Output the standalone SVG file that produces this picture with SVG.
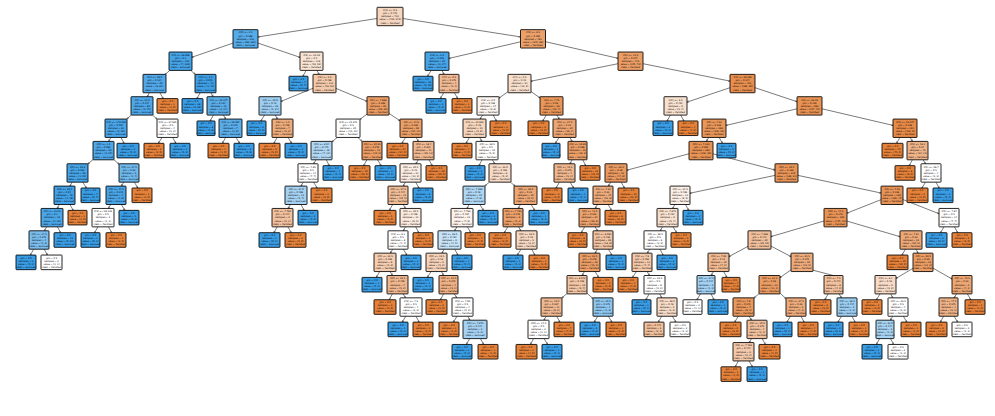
<svg xmlns="http://www.w3.org/2000/svg" width="995" height="416" viewBox="0 0 995 416">
<style>
text{font-family:"DejaVu Sans",sans-serif;font-size:2.3px;text-anchor:middle;fill:#000}
rect{stroke:#000;stroke-width:.85;rx:.5px}
.o{fill:#e58139}.b{fill:#399de5}.w{fill:#fff}
#edges path{fill:none;stroke:#222;stroke-width:.6;marker-end:url(#ah)}
</style>
<defs><marker id="ah" viewBox="0 0 4 4" refX="3.6" refY="2" markerWidth="2.2" markerHeight="2.2" orient="auto" markerUnits="userSpaceOnUse"><path d="M0 .3L3.6 2L0 3.7" fill="none" stroke="#222" stroke-width=".7"/></marker></defs>
<rect x="0" y="0" width="995" height="416" fill="#fff" style="stroke:none"/>
<g id="edges">
<path d="M377 18.5L258 36.9"/><path d="M403 18.5L520.5 36.9"/><path d="M233 43.1L192 57.2"/><path d="M258 43.1L300 57.3"/><path d="M520.5 41.8L449 58.4"/><path d="M545.5 41.7L618 58.3"/>
<path d="M169.8 70.4L165.2 74.4"/><path d="M190.8 70.4L195.2 74.4"/><path d="M306.2 70.4L302.8 76.3"/><path d="M316.9 70.4L319.2 74.4"/><path d="M431.2 70.4L427.6 76.3"/><path d="M441.9 70.4L444.1 74.4"/><path d="M618 63.7L531 81.2"/><path d="M643 63.7L730 81.1"/>
<path d="M149.4 92.8L147.2 96.7"/><path d="M159.9 92.8L163.3 98.6"/><path d="M200.2 92.8L196.8 98.6"/><path d="M210.9 92.8L213.2 96.7"/><path d="M313 88.3L281 101.4"/><path d="M336 88.4L367 101.3"/><path d="M443.7 92.8L440.3 98.6"/><path d="M454.4 92.8L457.8 98.6"/><path d="M508 91.7L499 98.1"/><path d="M531 91.6L540 97.9"/><path d="M730 87.7L687 102.1"/><path d="M755 87.7L797 101.7"/>
<path d="M131.3 115.1L126.7 119.1"/><path d="M152.5 115.1L157 119.1"/><path d="M213.4 115.1L210.1 121"/><path d="M223.5 115.1L225.6 119.1"/><path d="M264.5 115.1L260.9 121"/><path d="M275.2 115.1L277.4 119.1"/><path d="M367 114.1L360 119.3"/><path d="M389 113.4L400 120.8"/><path d="M482.5 115.1L480.1 119.1"/><path d="M493.2 115.1L496.4 121"/><path d="M546.2 115.1L542.8 121"/><path d="M556.9 115.1L559.2 119.1"/><path d="M670.4 115.1L667.1 121"/><path d="M680.7 115.1L683.9 121"/><path d="M797 108.8L726 125.4"/><path d="M822 108.8L893 125.4"/>
<path d="M110.9 137.5L108.7 141.4"/><path d="M121 137.5L124.1 143.3"/><path d="M162 137.5L158.4 143.3"/><path d="M172.7 137.5L175.9 143.3"/><path d="M225.6 137.5L222.4 143.3"/><path d="M236.1 137.5L239.6 143.3"/><path d="M277.2 137.5L273.8 143.3"/><path d="M288.1 137.5L291.6 143.3"/><path d="M337.1 137.5L332 141.8"/><path d="M357.9 137.5L362.1 141.4"/><path d="M405.5 137.5L401.9 143.3"/><path d="M416.2 137.5L418.4 141.4"/><path d="M469.4 137.5L466.1 143.3"/><path d="M479.7 137.5L481.9 141.4"/><path d="M559 137.5L555.4 143.3"/><path d="M569.9 137.5L572.2 141.4"/><path d="M708.7 137.5L706.4 141.4"/><path d="M719.2 137.5L722.4 143.3"/><path d="M899.9 137.5L896.6 143.3"/><path d="M910.2 137.5L912.4 141.4"/>
<path d="M93 159.6L88 163.9"/><path d="M114 159.8L119 164.2"/><path d="M316 159.8L313.6 163.8"/><path d="M326.3 159.8L329.3 165.7"/><path d="M366.9 159.8L363.6 165.7"/><path d="M377.6 159.8L381.1 165.7"/><path d="M418.2 159.8L415.9 163.8"/><path d="M428.9 159.8L432.3 165.7"/><path d="M482.1 159.8L478.9 165.7"/><path d="M492.4 159.8L494.7 163.8"/><path d="M572.2 159.8L569.9 163.8"/><path d="M582.7 159.8L585.9 165.7"/><path d="M689 153.8L627 170.1"/><path d="M713 153.8L775 170"/><path d="M912.4 159.8L909.1 165.7"/><path d="M923.1 159.8L925.5 163.8"/>
<path d="M72.2 182.2L69.9 186.1"/><path d="M82.9 182.2L86.3 188"/><path d="M123.7 182.2L121.4 186.1"/><path d="M134.4 182.2L137.8 188"/><path d="M303.1 182.2L301 186.1"/><path d="M313.6 182.2L317.1 188"/><path d="M405.4 182.2L403.2 186.1"/><path d="M415.7 182.2L418.9 188"/><path d="M489.3 182.2L484.7 186.1"/><path d="M510.5 182.2L515 186.1"/><path d="M559.4 182.2L556.1 188"/><path d="M570.1 182.2L573.6 188"/><path d="M610.7 182.2L608.4 186.1"/><path d="M621.2 182.2L624.4 188"/><path d="M775 175.4L690 193.2"/><path d="M798 175.4L881 193"/><path d="M925.5 182.2L921.9 188"/><path d="M936 182.2L939.1 188"/>
<path d="M59.4 204.5L57.2 208.5"/><path d="M69.9 204.5L73.3 210.4"/><path d="M110.7 204.5L108.4 208.5"/><path d="M121.4 204.5L124.8 210.4"/><path d="M290.5 204.5L288.1 208.5"/><path d="M301 204.5L304.1 210.4"/><path d="M392.7 204.5L389.3 210.4"/><path d="M403.2 204.5L405.4 208.5"/><path d="M469.1 204.5L467 208.5"/><path d="M479.8 204.5L483.5 210.4"/><path d="M520.4 204.5L518.2 208.5"/><path d="M531.1 204.5L534.6 210.4"/><path d="M597.5 204.5L595.1 208.5"/><path d="M608.2 204.5L611.4 210.4"/><path d="M674.9 204.5L672.7 208.5"/><path d="M685.4 204.5L688.8 210.4"/><path d="M881 199.7L847 213.1"/><path d="M903 199.6L939 213.7"/>
<path d="M46.7 226.9L44.4 230.8"/><path d="M57.4 226.9L60.8 232.7"/><path d="M97.9 226.9L94.6 232.7"/><path d="M108.4 226.9L111.8 232.7"/><path d="M277.2 226.9L273.8 232.7"/><path d="M287.9 226.9L291.3 232.7"/><path d="M405.4 226.9L403.2 230.8"/><path d="M415.7 226.9L418.9 232.7"/><path d="M456.9 226.9L454.7 230.8"/><path d="M467.4 226.9L470.8 232.7"/><path d="M507.7 226.9L504.3 232.7"/><path d="M518.6 226.9L521 230.8"/><path d="M584.6 226.9L581.4 232.7"/><path d="M595.1 226.9L597.5 230.8"/><path d="M662.4 226.9L660.2 230.8"/><path d="M673.1 226.9L676.6 232.7"/><path d="M824 221L771 236.6"/><path d="M847 221.1L900 236.7"/><path d="M943.9 226.9L940.6 232.7"/><path d="M954.4 226.9L957.8 232.7"/>
<path d="M33.7 249.2L30.3 255.1"/><path d="M44.2 249.2L47.4 255.1"/><path d="M392.7 249.2L390.4 253.2"/><path d="M403.4 249.2L406.8 255.1"/><path d="M444.2 249.2L441.9 253.2"/><path d="M454.7 249.2L457.9 255.1"/><path d="M521 249.2L517.4 255.1"/><path d="M531.7 249.2L534.9 255.1"/><path d="M597.5 249.2L595.1 253.2"/><path d="M608.4 249.2L611.8 255.1"/><path d="M649.7 249.2L647.4 253.2"/><path d="M660 249.2L663.1 255.1"/><path d="M748 246.3L729 256.6"/><path d="M771 246.1L791 256.6"/><path d="M905.5 249.2L901.9 255.1"/><path d="M916 249.2L918.1 253.2"/>
<path d="M379.7 271.6L376.3 277.4"/><path d="M390.2 271.6L392.4 275.5"/><path d="M431 271.6L427.4 277.4"/><path d="M441.5 271.6L443.6 275.5"/><path d="M584.4 271.6L582.2 275.5"/><path d="M595.1 271.6L598.6 277.4"/><path d="M636.3 271.6L632.6 277.4"/><path d="M647.2 271.6L649.4 275.5"/><path d="M713.4 271.6L711.2 275.5"/><path d="M723.7 271.6L726.9 277.4"/><path d="M791 269.9L780 277.5"/><path d="M813 270.2L843 278"/><path d="M913 268.3L896 278.4"/><path d="M933 268.1L952 279"/>
<path d="M392.4 293.9L389.1 299.8"/><path d="M403.1 293.9L405.5 297.9"/><path d="M443.6 293.9L440.4 299.8"/><path d="M454.3 293.9L456.8 297.9"/><path d="M567 293.5L562 297.9"/><path d="M587 293.3L593 298.5"/><path d="M649.2 293.9L645.8 299.8"/><path d="M659.7 293.9L661.9 297.9"/><path d="M700.5 293.9L696.9 299.8"/><path d="M711 293.9L714.1 299.8"/><path d="M759 293.7L754 298"/><path d="M780 293.2L786 298.6"/><path d="M828.2 293.9L824.8 299.8"/><path d="M839.1 293.9L841.5 297.9"/><path d="M880 293.9L876.4 299.8"/><path d="M890.7 293.9L892.9 297.9"/><path d="M956.5 293.9L954.1 297.9"/><path d="M967.4 293.9L970.8 299.8"/>
<path d="M405.7 316.3L402.3 322.1"/><path d="M416 316.3L419.1 322.1"/><path d="M457 316.3L453.4 322.1"/><path d="M467.7 316.3L469.9 320.2"/><path d="M546.2 316.3L543.9 320.2"/><path d="M556.7 316.3L559.9 322.1"/><path d="M597.7 316.3L594.3 322.1"/><path d="M608.4 316.3L611.8 322.1"/><path d="M661.7 316.3L658.3 322.1"/><path d="M672.4 316.3L675.8 322.1"/><path d="M738.2 316.3L734.8 322.1"/><path d="M749.1 316.3L751.5 320.2"/><path d="M790.5 316.3L786.9 322.1"/><path d="M801 316.3L804.1 322.1"/><path d="M841.5 316.3L837.9 322.1"/><path d="M852 316.3L855.1 322.1"/><path d="M892.7 316.3L890.4 320.2"/><path d="M903.4 316.3L906.8 322.1"/><path d="M943.6 316.3L940.4 322.1"/><path d="M954.1 316.3L957.6 322.1"/>
<path d="M469.7 338.6L466.3 344.5"/><path d="M480.4 338.6L483.8 344.5"/><path d="M533.6 338.6L530.4 344.5"/><path d="M544.1 338.6L547.6 344.5"/><path d="M751.5 338.6L749.1 342.6"/><path d="M762.2 338.6L765.4 344.5"/><path d="M879.7 338.6L876.3 344.5"/><path d="M890.4 338.6L893.8 344.5"/>
<path d="M738.4 361L735.1 366.8"/><path d="M749.1 361L752.4 366.8"/>
</g>
<g id="n0" transform="translate(390 16.5)"><rect x="-13" y="-9.2" width="26" height="18.4" fill="#f6d6bf"/><text y="-5.4">X[1] &lt;= 0.5</text><text y="-2.3">gini = 0.473</text><text y=".8">samples = 712</text><text y="3.9">value = [439, 273]</text><text y="7">class = Perished</text></g>
<g id="n1_245" transform="translate(245.5 38.85)"><rect x="-12.5" y="-9.2" width="25" height="18.4" fill="#56abe9"/><text y="-5.4">X[0] &lt;= 2.5</text><text y="-2.3">gini = 0.388</text><text y=".8">samples = 251</text><text y="3.9">value = [66, 185]</text><text y="7">class = Survived</text></g>
<g id="n1_533" transform="translate(533 38.85)"><rect x="-12.5" y="-9.2" width="25" height="18.4" fill="#eca16b"/><text y="-5.4">X[5] &lt;= 6.5</text><text y="-2.3">gini = 0.309</text><text y=".8">samples = 461</text><text y="3.9">value = [373, 88]</text><text y="7">class = Perished</text></g>
<g id="n2_180" transform="translate(180.5 61.2)"><rect x="-11.5" y="-9.2" width="23" height="18.4" fill="#45a3e7"/><text y="-5.4">X[5] &lt;= 28.856</text><text y="-2.3">gini = 0.1</text><text y=".8">samples = 133</text><text y="3.9">value = [7, 126]</text><text y="7">class = Survived</text></g>
<g id="n2_311" transform="translate(311.5 61.2)"><rect x="-11.5" y="-9.2" width="23" height="18.4" fill="#f9e4d4"/><text y="-5.4">X[5] &lt;= 23.35</text><text y="-2.3">gini = 0.5</text><text y=".8">samples = 118</text><text y="3.9">value = [59, 59]</text><text y="7">class = Perished</text></g>
<g id="n2_437" transform="translate(437 61.2)"><rect x="-12" y="-9.2" width="24" height="18.4" fill="#47a4e7"/><text y="-5.4">X[3] &lt;= 2.5</text><text y="-2.3">gini = 0.255</text><text y=".8">samples = 20</text><text y="3.9">value = [3, 17]</text><text y="7">class = Survived</text></g>
<g id="n2_630" transform="translate(630.5 61.2)"><rect x="-12.5" y="-9.2" width="25" height="18.4" fill="#eb9d65"/><text y="-5.4">X[2] &lt;= 13.5</text><text y="-2.3">gini = 0.277</text><text y=".8">samples = 443</text><text y="3.9">value = [370, 73]</text><text y="7">class = Perished</text></g>
<g id="n3_154" transform="translate(154.5 83.55)"><rect x="-11.5" y="-9.2" width="23" height="18.4" fill="#50a8e8"/><text y="-5.4">X[2] &lt;= 56.0</text><text y="-2.3">gini = 0.124</text><text y=".8">samples = 90</text><text y="3.9">value = [6, 84]</text><text y="7">class = Survived</text></g>
<g id="n3_205" transform="translate(205.5 83.55)"><rect x="-10.5" y="-9.2" width="21" height="18.4" fill="#3e9fe6"/><text y="-5.4">X[2] &lt;= 2.5</text><text y="-2.3">gini = 0.045</text><text y=".8">samples = 43</text><text y="3.9">value = [1, 42]</text><text y="7">class = Survived</text></g>
<g id="n3_298" transform="translate(298.5 83.55)"><rect class="b" x="-9.5" y="-7.3" width="19" height="14.6"/><text y="-3.85">gini = 0.0</text><text y="-.75">samples = 7</text><text y="2.35">value = [0, 7]</text><text y="5.45">class = Survived</text></g>
<g id="n3_324" transform="translate(324.5 83.55)"><rect x="-11.5" y="-9.2" width="23" height="18.4" fill="#f4caab"/><text y="-5.4">X[2] &lt;= 5.5</text><text y="-2.3">gini = 0.498</text><text y=".8">samples = 111</text><text y="3.9">value = [59, 52]</text><text y="7">class = Perished</text></g>
<g id="n3_423" transform="translate(423 83.55)"><rect class="b" x="-10" y="-7.3" width="20" height="14.6"/><text y="-3.85">gini = 0.0</text><text y="-.75">samples = 16</text><text y="2.35">value = [0, 16]</text><text y="5.45">class = Survived</text></g>
<g id="n3_449" transform="translate(449 83.55)"><rect x="-10" y="-9.2" width="20" height="18.4" fill="#f1ba93"/><text y="-5.4">X[4] &lt;= 0.5</text><text y="-2.3">gini = 0.375</text><text y=".8">samples = 4</text><text y="3.9">value = [3, 1]</text><text y="7">class = Perished</text></g>
<g id="n3_519" transform="translate(519.5 83.55)"><rect x="-11.5" y="-9.2" width="23" height="18.4" fill="#f8dfcc"/><text y="-5.4">X[4] &lt;= 0.5</text><text y="-2.3">gini = 0.49</text><text y=".8">samples = 21</text><text y="3.9">value = [12, 9]</text><text y="7">class = Perished</text></g>
<g id="n3_742" transform="translate(742.5 83.55)"><rect x="-12.5" y="-9.2" width="25" height="18.4" fill="#e88f4f"/><text y="-5.4">X[5] &lt;= 26.269</text><text y="-2.3">gini = 0.244</text><text y=".8">samples = 422</text><text y="3.9">value = [362, 60]</text><text y="7">class = Perished</text></g>
<g id="n4_142" transform="translate(142 105.9)"><rect x="-11" y="-9.2" width="22" height="18.4" fill="#4ea7e8"/><text y="-5.4">X[5] &lt;= 25.5</text><text y="-2.3">gini = 0.117</text><text y=".8">samples = 80</text><text y="3.9">value = [5, 75]</text><text y="7">class = Survived</text></g>
<g id="n4_167" transform="translate(167.5 105.9)"><rect class="o" x="-10.5" y="-7.3" width="21" height="14.6"/><text y="-3.85">gini = 0.0</text><text y="-.75">samples = 1</text><text y="2.35">value = [1, 0]</text><text y="5.45">class = Perished</text></g>
<g id="n4_192" transform="translate(192.5 105.9)"><rect class="b" x="-10.5" y="-7.3" width="21" height="14.6"/><text y="-3.85">gini = 0.0</text><text y="-.75">samples = 28</text><text y="2.35">value = [0, 28]</text><text y="5.45">class = Survived</text></g>
<g id="n4_218" transform="translate(218.5 105.9)"><rect x="-11.5" y="-9.2" width="23" height="18.4" fill="#5aade9"/><text y="-5.4">X[5] &lt;= 52.277</text><text y="-2.3">gini = 0.124</text><text y=".8">samples = 15</text><text y="3.9">value = [1, 14]</text><text y="7">class = Survived</text></g>
<g id="n4_270" transform="translate(270 105.9)"><rect x="-11" y="-9.2" width="22" height="18.4" fill="#9ccef2"/><text y="-5.4">X[5] &lt;= 20.8</text><text y="-2.3">gini = 0.43</text><text y=".8">samples = 16</text><text y="3.9">value = [5, 11]</text><text y="7">class = Survived</text></g>
<g id="n4_378" transform="translate(378 105.9)"><rect x="-11" y="-9.2" width="22" height="18.4" fill="#eb9c63"/><text y="-5.4">X[5] &lt;= 7.888</text><text y="-2.3">gini = 0.396</text><text y=".8">samples = 95</text><text y="3.9">value = [69, 26]</text><text y="7">class = Perished</text></g>
<g id="n4_436" transform="translate(436 105.9)"><rect class="b" x="-10" y="-7.3" width="20" height="14.6"/><text y="-3.85">gini = 0.0</text><text y="-.75">samples = 3</text><text y="2.35">value = [0, 3]</text><text y="5.45">class = Survived</text></g>
<g id="n4_462" transform="translate(462 105.9)"><rect class="o" x="-10" y="-7.3" width="20" height="14.6"/><text y="-3.85">gini = 0.0</text><text y="-.75">samples = 1</text><text y="2.35">value = [1, 0]</text><text y="5.45">class = Perished</text></g>
<g id="n4_488" transform="translate(488 105.9)"><rect x="-11" y="-9.2" width="22" height="18.4" fill="#fdf5f0"/><text y="-5.4">X[3] &lt;= 2.0</text><text y="-2.3">gini = 0.498</text><text y=".8">samples = 17</text><text y="3.9">value = [9, 8]</text><text y="7">class = Perished</text></g>
<g id="n4_551" transform="translate(551.5 105.9)"><rect x="-11.5" y="-9.2" width="23" height="18.4" fill="#e99659"/><text y="-5.4">X[5] &lt;= 7.75</text><text y="-2.3">gini = 0.26</text><text y=".8">samples = 26</text><text y="3.9">value = [22, 4]</text><text y="7">class = Perished</text></g>
<g id="n4_675" transform="translate(675.5 105.9)"><rect x="-11.5" y="-9.2" width="23" height="18.4" fill="#f8e0ce"/><text y="-5.4">X[2] &lt;= 9.5</text><text y="-2.3">gini = 0.494</text><text y=".8">samples = 9</text><text y="3.9">value = [5, 4]</text><text y="7">class = Perished</text></g>
<g id="n4_809" transform="translate(809.5 105.9)"><rect x="-12.5" y="-9.2" width="25" height="18.4" fill="#e89253"/><text y="-5.4">X[2] &lt;= 32.25</text><text y="-2.3">gini = 0.193</text><text y=".8">samples = 389</text><text y="3.9">value = [347, 42]</text><text y="7">class = Perished</text></g>
<g id="n5_116" transform="translate(116 128.25)"><rect x="-11" y="-9.2" width="22" height="18.4" fill="#49a5e7"/><text y="-5.4">X[5] &lt;= 149.035</text><text y="-2.3">gini = 0.094</text><text y=".8">samples = 61</text><text y="3.9">value = [3, 58]</text><text y="7">class = Survived</text></g>
<g id="n5_167" transform="translate(167.5 128.25)"><rect class="w" x="-10.5" y="-9.2" width="21" height="18.4"/><text y="-5.4">X[5] &lt;= 27.825</text><text y="-2.3">gini = 0.5</text><text y=".8">samples = 4</text><text y="3.9">value = [2, 2]</text><text y="7">class = Perished</text></g>
<g id="n5_206" transform="translate(206 128.25)"><rect class="b" x="-9" y="-7.3" width="18" height="14.6"/><text y="-3.85">gini = 0.0</text><text y="-.75">samples = 8</text><text y="2.35">value = [0, 8]</text><text y="5.45">class = Survived</text></g>
<g id="n5_230" transform="translate(230.5 128.25)"><rect x="-11.5" y="-9.2" width="23" height="18.4" fill="#5aade9"/><text y="-5.4">X[5] &lt;= 59.087</text><text y="-2.3">gini = 0.245</text><text y=".8">samples = 7</text><text y="3.9">value = [1, 6]</text><text y="7">class = Survived</text></g>
<g id="n5_256" transform="translate(256.5 128.25)"><rect class="b" x="-9.5" y="-7.3" width="19" height="14.6"/><text y="-3.85">gini = 0.0</text><text y="-.75">samples = 9</text><text y="2.35">value = [0, 9]</text><text y="5.45">class = Survived</text></g>
<g id="n5_282" transform="translate(282.5 128.25)"><rect x="-10.5" y="-9.2" width="21" height="18.4" fill="#eeab7b"/><text y="-5.4">X[6] &lt;= 1.5</text><text y="-2.3">gini = 0.408</text><text y=".8">samples = 7</text><text y="3.9">value = [5, 2]</text><text y="7">class = Perished</text></g>
<g id="n5_348" transform="translate(348 128.25)"><rect class="w" x="-12" y="-9.2" width="24" height="18.4"/><text y="-5.4">X[5] &lt;= 15.373</text><text y="-2.3">gini = 0.5</text><text y=".8">samples = 30</text><text y="3.9">value = [15, 15]</text><text y="7">class = Perished</text></g>
<g id="n5_411" transform="translate(411 128.25)"><rect x="-11" y="-9.2" width="22" height="18.4" fill="#eb9f68"/><text y="-5.4">X[5] &lt;= 17.6</text><text y="-2.3">gini = 0.285</text><text y=".8">samples = 65</text><text y="3.9">value = [54, 11]</text><text y="7">class = Perished</text></g>
<g id="n5_474" transform="translate(474.5 128.25)"><rect x="-11.5" y="-9.2" width="23" height="18.4" fill="#f6d5bd"/><text y="-5.4">X[5] &lt;= 15.623</text><text y="-2.3">gini = 0.48</text><text y=".8">samples = 15</text><text y="3.9">value = [9, 6]</text><text y="7">class = Perished</text></g>
<g id="n5_500" transform="translate(500.5 128.25)"><rect class="o" x="-10.5" y="-7.3" width="21" height="14.6"/><text y="-3.85">gini = 0.0</text><text y="-.75">samples = 2</text><text y="2.35">value = [2, 0]</text><text y="5.45">class = Perished</text></g>
<g id="n5_538" transform="translate(538.5 128.25)"><rect class="o" x="-10.5" y="-7.3" width="21" height="14.6"/><text y="-3.85">gini = 0.0</text><text y="-.75">samples = 3</text><text y="2.35">value = [3, 0]</text><text y="5.45">class = Perished</text></g>
<g id="n5_564" transform="translate(564.5 128.25)"><rect x="-11.5" y="-9.2" width="23" height="18.4" fill="#eca572"/><text y="-5.4">X[5] &lt;= 27.0</text><text y="-2.3">gini = 0.32</text><text y=".8">samples = 20</text><text y="3.9">value = [16, 4]</text><text y="7">class = Perished</text></g>
<g id="n5_663" transform="translate(663 128.25)"><rect class="b" x="-10" y="-7.3" width="20" height="14.6"/><text y="-3.85">gini = 0.0</text><text y="-.75">samples = 2</text><text y="2.35">value = [0, 2]</text><text y="5.45">class = Survived</text></g>
<g id="n5_688" transform="translate(688 128.25)"><rect class="o" x="-10" y="-7.3" width="20" height="14.6"/><text y="-3.85">gini = 0.0</text><text y="-.75">samples = 4</text><text y="2.35">value = [4, 0]</text><text y="5.45">class = Perished</text></g>
<g id="n5_714" transform="translate(714 128.25)"><rect x="-12" y="-9.2" width="24" height="18.4" fill="#e99659"/><text y="-5.4">X[5] &lt;= 7.91</text><text y="-2.3">gini = 0.216</text><text y=".8">samples = 268</text><text y="3.9">value = [235, 33]</text><text y="7">class = Perished</text></g>
<g id="n5_905" transform="translate(905 128.25)"><rect x="-12" y="-9.2" width="24" height="18.4" fill="#e78a47"/><text y="-5.4">X[5] &lt;= 52.277</text><text y="-2.3">gini = 0.138</text><text y=".8">samples = 121</text><text y="3.9">value = [112, 9]</text><text y="7">class = Perished</text></g>
<g id="n6_103" transform="translate(103.5 150.6)"><rect x="-10.5" y="-9.2" width="21" height="18.4" fill="#4ea7e8"/><text y="-5.4">X[0] &lt;= 1.5</text><text y="-2.3">gini = 0.065</text><text y=".8">samples = 59</text><text y="3.9">value = [2, 57]</text><text y="7">class = Survived</text></g>
<g id="n6_128" transform="translate(128 150.6)"><rect class="b" x="-11" y="-7.3" width="22" height="14.6"/><text y="-3.85">gini = 0.0</text><text y="-.75">samples = 2</text><text y="2.35">value = [0, 2]</text><text y="5.45">class = Survived</text></g>
<g id="n6_154" transform="translate(154 150.6)"><rect class="o" x="-10" y="-7.3" width="20" height="14.6"/><text y="-3.85">gini = 0.0</text><text y="-.75">samples = 2</text><text y="2.35">value = [2, 0]</text><text y="5.45">class = Perished</text></g>
<g id="n6_180" transform="translate(180 150.6)"><rect class="b" x="-10" y="-7.3" width="20" height="14.6"/><text y="-3.85">gini = 0.0</text><text y="-.75">samples = 2</text><text y="2.35">value = [0, 2]</text><text y="5.45">class = Survived</text></g>
<g id="n6_218" transform="translate(218.5 150.6)"><rect class="o" x="-10.5" y="-7.3" width="21" height="14.6"/><text y="-3.85">gini = 0.0</text><text y="-.75">samples = 1</text><text y="2.35">value = [1, 0]</text><text y="5.45">class = Perished</text></g>
<g id="n6_244" transform="translate(244 150.6)"><rect class="b" x="-10" y="-7.3" width="20" height="14.6"/><text y="-3.85">gini = 0.0</text><text y="-.75">samples = 6</text><text y="2.35">value = [0, 6]</text><text y="5.45">class = Survived</text></g>
<g id="n6_269" transform="translate(269.5 150.6)"><rect class="o" x="-10.5" y="-7.3" width="21" height="14.6"/><text y="-3.85">gini = 0.0</text><text y="-.75">samples = 5</text><text y="2.35">value = [5, 0]</text><text y="5.45">class = Perished</text></g>
<g id="n6_296" transform="translate(296 150.6)"><rect class="b" x="-11" y="-7.3" width="22" height="14.6"/><text y="-3.85">gini = 0.0</text><text y="-.75">samples = 2</text><text y="2.35">value = [0, 2]</text><text y="5.45">class = Survived</text></g>
<g id="n6_321" transform="translate(321.5 150.6)"><rect x="-10.5" y="-9.2" width="21" height="18.4" fill="#b0d8f5"/><text y="-5.4">X[5] &lt;= 8.04</text><text y="-2.3">gini = 0.475</text><text y=".8">samples = 18</text><text y="3.9">value = [7, 11]</text><text y="7">class = Survived</text></g>
<g id="n6_372" transform="translate(372 150.6)"><rect x="-10" y="-9.2" width="20" height="18.4" fill="#eb9d65"/><text y="-5.4">X[5] &lt;= 20.25</text><text y="-2.3">gini = 0.278</text><text y=".8">samples = 12</text><text y="3.9">value = [10, 2]</text><text y="7">class = Perished</text></g>
<g id="n6_397" transform="translate(397.5 150.6)"><rect class="o" x="-10.5" y="-7.3" width="21" height="14.6"/><text y="-3.85">gini = 0.0</text><text y="-.75">samples = 24</text><text y="2.35">value = [24, 0]</text><text y="5.45">class = Perished</text></g>
<g id="n6_423" transform="translate(423.5 150.6)"><rect x="-10.5" y="-9.2" width="21" height="18.4" fill="#f0b890"/><text y="-5.4">X[5] &lt;= 18.4</text><text y="-2.3">gini = 0.394</text><text y=".8">samples = 41</text><text y="3.9">value = [30, 11]</text><text y="7">class = Perished</text></g>
<g id="n6_462" transform="translate(462 150.6)"><rect class="o" x="-10" y="-7.3" width="20" height="14.6"/><text y="-3.85">gini = 0.0</text><text y="-.75">samples = 4</text><text y="2.35">value = [4, 0]</text><text y="5.45">class = Perished</text></g>
<g id="n6_487" transform="translate(487 150.6)"><rect x="-11" y="-9.2" width="22" height="18.4" fill="#fffefd"/><text y="-5.4">X[0] &lt;= 28.5</text><text y="-2.3">gini = 0.5</text><text y=".8">samples = 10</text><text y="3.9">value = [5, 5]</text><text y="7">class = Perished</text></g>
<g id="n6_551" transform="translate(551 150.6)"><rect class="b" x="-9" y="-7.3" width="18" height="14.6"/><text y="-3.85">gini = 0.0</text><text y="-.75">samples = 1</text><text y="2.35">value = [0, 1]</text><text y="5.45">class = Survived</text></g>
<g id="n6_577" transform="translate(577.5 150.6)"><rect x="-9.5" y="-9.2" width="19" height="18.4" fill="#eb9e66"/><text y="-5.4">X[5] &lt;= 29.85</text><text y="-2.3">gini = 0.266</text><text y=".8">samples = 19</text><text y="3.9">value = [16, 3]</text><text y="7">class = Perished</text></g>
<g id="n6_701" transform="translate(701 150.6)"><rect x="-12" y="-9.2" width="24" height="18.4" fill="#e89253"/><text y="-5.4">X[5] &lt;= 7.133</text><text y="-2.3">gini = 0.203</text><text y=".8">samples = 262</text><text y="3.9">value = [232, 30]</text><text y="7">class = Perished</text></g>
<g id="n6_726" transform="translate(726.5 150.6)"><rect class="b" x="-9.5" y="-7.3" width="19" height="14.6"/><text y="-3.85">gini = 0.0</text><text y="-.75">samples = 3</text><text y="2.35">value = [0, 3]</text><text y="5.45">class = Survived</text></g>
<g id="n6_892" transform="translate(892.5 150.6)"><rect class="o" x="-10.5" y="-7.3" width="21" height="14.6"/><text y="-3.85">gini = 0.0</text><text y="-.75">samples = 75</text><text y="2.35">value = [75, 0]</text><text y="5.45">class = Perished</text></g>
<g id="n6_917" transform="translate(917.5 150.6)"><rect x="-10.5" y="-9.2" width="21" height="18.4" fill="#efb388"/><text y="-5.4">X[5] &lt;= 53.1</text><text y="-2.3">gini = 0.37</text><text y=".8">samples = 45</text><text y="3.9">value = [34, 11]</text><text y="7">class = Perished</text></g>
<g id="n7_77" transform="translate(77.5 172.95)"><rect x="-10.5" y="-9.2" width="21" height="18.4" fill="#46a4e7"/><text y="-5.4">X[5] &lt;= 25.5</text><text y="-2.3">gini = 0.035</text><text y=".8">samples = 56</text><text y="3.9">value = [1, 55]</text><text y="7">class = Survived</text></g>
<g id="n7_129" transform="translate(129 172.95)"><rect x="-10" y="-9.2" width="20" height="18.4" fill="#6fb8ec"/><text y="-5.4">X[5] &lt;= 27.5</text><text y="-2.3">gini = 0.32</text><text y=".8">samples = 5</text><text y="3.9">value = [1, 4]</text><text y="7">class = Survived</text></g>
<g id="n7_308" transform="translate(308 172.95)"><rect class="w" x="-10" y="-9.2" width="20" height="18.4"/><text y="-5.4">X[5] &lt;= 7.85</text><text y="-2.3">gini = 0.5</text><text y=".8">samples = 14</text><text y="3.9">value = [7, 7]</text><text y="7">class = Perished</text></g>
<g id="n7_333" transform="translate(333 172.95)"><rect class="b" x="-10" y="-7.3" width="20" height="14.6"/><text y="-3.85">gini = 0.0</text><text y="-.75">samples = 4</text><text y="2.35">value = [0, 4]</text><text y="5.45">class = Survived</text></g>
<g id="n7_359" transform="translate(359.5 172.95)"><rect class="o" x="-10.5" y="-7.3" width="21" height="14.6"/><text y="-3.85">gini = 0.0</text><text y="-.75">samples = 10</text><text y="2.35">value = [10, 0]</text><text y="5.45">class = Perished</text></g>
<g id="n7_385" transform="translate(385.5 172.95)"><rect class="b" x="-10.5" y="-7.3" width="21" height="14.6"/><text y="-3.85">gini = 0.0</text><text y="-.75">samples = 2</text><text y="2.35">value = [0, 2]</text><text y="5.45">class = Survived</text></g>
<g id="n7_410" transform="translate(410.5 172.95)"><rect x="-10.5" y="-9.2" width="21" height="18.4" fill="#fbede3"/><text y="-5.4">X[0] &lt;= 30.5</text><text y="-2.3">gini = 0.49</text><text y=".8">samples = 21</text><text y="3.9">value = [12, 9]</text><text y="7">class = Perished</text></g>
<g id="n7_436" transform="translate(436.5 172.95)"><rect class="o" x="-10.5" y="-7.3" width="21" height="14.6"/><text y="-3.85">gini = 0.0</text><text y="-.75">samples = 20</text><text y="2.35">value = [20, 0]</text><text y="5.45">class = Perished</text></g>
<g id="n7_475" transform="translate(475 172.95)"><rect class="b" x="-10" y="-7.3" width="20" height="14.6"/><text y="-3.85">gini = 0.0</text><text y="-.75">samples = 2</text><text y="2.35">value = [0, 2]</text><text y="5.45">class = Survived</text></g>
<g id="n7_500" transform="translate(500 172.95)"><rect x="-11" y="-9.2" width="22" height="18.4" fill="#f8dbc6"/><text y="-5.4">X[0] &lt;= 32.0</text><text y="-2.3">gini = 0.469</text><text y=".8">samples = 8</text><text y="3.9">value = [5, 3]</text><text y="7">class = Perished</text></g>
<g id="n7_564" transform="translate(564.5 172.95)"><rect x="-10.5" y="-9.2" width="21" height="18.4" fill="#f0b78e"/><text y="-5.4">X[0] &lt;= 43.5</text><text y="-2.3">gini = 0.375</text><text y=".8">samples = 4</text><text y="3.9">value = [3, 1]</text><text y="7">class = Perished</text></g>
<g id="n7_590" transform="translate(590 172.95)"><rect class="o" x="-10" y="-7.3" width="20" height="14.6"/><text y="-3.85">gini = 0.0</text><text y="-.75">samples = 15</text><text y="2.35">value = [15, 0]</text><text y="5.45">class = Perished</text></g>
<g id="n7_616" transform="translate(616 172.95)"><rect x="-11" y="-9.2" width="22" height="18.4" fill="#ea9a60"/><text y="-5.4">X[0] &lt;= 32.5</text><text y="-2.3">gini = 0.26</text><text y=".8">samples = 52</text><text y="3.9">value = [44, 8]</text><text y="7">class = Perished</text></g>
<g id="n7_786" transform="translate(786.5 172.95)"><rect x="-11.5" y="-9.2" width="23" height="18.4" fill="#e99558"/><text y="-5.4">X[0] &lt;= 30.5</text><text y="-2.3">gini = 0.182</text><text y=".8">samples = 210</text><text y="3.9">value = [189, 21]</text><text y="7">class = Perished</text></g>
<g id="n7_905" transform="translate(905 172.95)"><rect class="o" x="-10" y="-7.3" width="20" height="14.6"/><text y="-3.85">gini = 0.0</text><text y="-.75">samples = 6</text><text y="2.35">value = [6, 0]</text><text y="5.45">class = Perished</text></g>
<g id="n7_931" transform="translate(931 172.95)"><rect class="w" x="-10" y="-9.2" width="20" height="18.4"/><text y="-5.4">X[5] &lt;= 56.7</text><text y="-2.3">gini = 0.5</text><text y=".8">samples = 4</text><text y="3.9">value = [2, 2]</text><text y="7">class = Perished</text></g>
<g id="n8_64" transform="translate(64.5 195.3)"><rect x="-10.5" y="-9.2" width="21" height="18.4" fill="#42a1e6"/><text y="-5.4">X[0] &lt;= 36.5</text><text y="-2.3">gini = 0.04</text><text y=".8">samples = 49</text><text y="3.9">value = [1, 48]</text><text y="7">class = Survived</text></g>
<g id="n8_90" transform="translate(90.5 195.3)"><rect class="b" x="-9.5" y="-7.3" width="19" height="14.6"/><text y="-3.85">gini = 0.0</text><text y="-.75">samples = 7</text><text y="2.35">value = [0, 7]</text><text y="5.45">class = Survived</text></g>
<g id="n8_116" transform="translate(116 195.3)"><rect x="-10" y="-9.2" width="20" height="18.4" fill="#4aa5e7"/><text y="-5.4">X[0] &lt;= 47.5</text><text y="-2.3">gini = 0.245</text><text y=".8">samples = 7</text><text y="3.9">value = [1, 6]</text><text y="7">class = Survived</text></g>
<g id="n8_142" transform="translate(142 195.3)"><rect class="o" x="-10" y="-7.3" width="20" height="14.6"/><text y="-3.85">gini = 0.0</text><text y="-.75">samples = 1</text><text y="2.35">value = [1, 0]</text><text y="5.45">class = Perished</text></g>
<g id="n8_296" transform="translate(296 195.3)"><rect x="-11" y="-9.2" width="22" height="18.4" fill="#a5d2f3"/><text y="-5.4">X[0] &lt;= 34.0</text><text y="-2.3">gini = 0.486</text><text y=".8">samples = 12</text><text y="3.9">value = [5, 7]</text><text y="7">class = Survived</text></g>
<g id="n8_321" transform="translate(321.5 195.3)"><rect class="o" x="-10.5" y="-7.3" width="21" height="14.6"/><text y="-3.85">gini = 0.0</text><text y="-.75">samples = 2</text><text y="2.35">value = [2, 0]</text><text y="5.45">class = Perished</text></g>
<g id="n8_398" transform="translate(398 195.3)"><rect x="-10" y="-9.2" width="20" height="18.4" fill="#f1bd97"/><text y="-5.4">X[0] &lt;= 27.5</text><text y="-2.3">gini = 0.444</text><text y=".8">samples = 15</text><text y="3.9">value = [10, 5]</text><text y="7">class = Perished</text></g>
<g id="n8_423" transform="translate(423 195.3)"><rect class="b" x="-10" y="-7.3" width="20" height="14.6"/><text y="-3.85">gini = 0.0</text><text y="-.75">samples = 6</text><text y="2.35">value = [0, 6]</text><text y="5.45">class = Survived</text></g>
<g id="n8_474" transform="translate(474 195.3)"><rect x="-11" y="-9.2" width="22" height="18.4" fill="#aed7f4"/><text y="-5.4">X[5] &lt;= 7.988</text><text y="-2.3">gini = 0.48</text><text y=".8">samples = 10</text><text y="3.9">value = [4, 6]</text><text y="7">class = Survived</text></g>
<g id="n8_525" transform="translate(525.5 195.3)"><rect x="-11.5" y="-9.2" width="23" height="18.4" fill="#eda775"/><text y="-5.4">X[0] &lt;= 36.0</text><text y="-2.3">gini = 0.32</text><text y=".8">samples = 10</text><text y="3.9">value = [8, 2]</text><text y="7">class = Perished</text></g>
<g id="n8_552" transform="translate(552 195.3)"><rect class="o" x="-10" y="-7.3" width="20" height="14.6"/><text y="-3.85">gini = 0.0</text><text y="-.75">samples = 3</text><text y="2.35">value = [3, 0]</text><text y="5.45">class = Perished</text></g>
<g id="n8_578" transform="translate(578 195.3)"><rect class="b" x="-10" y="-7.3" width="20" height="14.6"/><text y="-3.85">gini = 0.0</text><text y="-.75">samples = 1</text><text y="2.35">value = [0, 1]</text><text y="5.45">class = Survived</text></g>
<g id="n8_603" transform="translate(603 195.3)"><rect x="-10" y="-9.2" width="20" height="18.4" fill="#eeac7d"/><text y="-5.4">X[5] &lt;= 7.91</text><text y="-2.3">gini = 0.32</text><text y=".8">samples = 40</text><text y="3.9">value = [32, 8]</text><text y="7">class = Perished</text></g>
<g id="n8_628" transform="translate(628.5 195.3)"><rect class="o" x="-10.5" y="-7.3" width="21" height="14.6"/><text y="-3.85">gini = 0.0</text><text y="-.75">samples = 12</text><text y="2.35">value = [12, 0]</text><text y="5.45">class = Perished</text></g>
<g id="n8_680" transform="translate(680 195.3)"><rect x="-10" y="-9.2" width="20" height="18.4" fill="#fcefe6"/><text y="-5.4">X[0] &lt;= 21.5</text><text y="-2.3">gini = 0.496</text><text y=".8">samples = 11</text><text y="3.9">value = [6, 5]</text><text y="7">class = Perished</text></g>
<g id="n8_892" transform="translate(892 195.3)"><rect x="-11" y="-9.2" width="22" height="18.4" fill="#e99457"/><text y="-5.4">X[5] &lt;= 7.55</text><text y="-2.3">gini = 0.156</text><text y=".8">samples = 199</text><text y="3.9">value = [182, 17]</text><text y="7">class = Perished</text></g>
<g id="n8_917" transform="translate(917.5 195.3)"><rect class="o" x="-10.5" y="-7.3" width="21" height="14.6"/><text y="-3.85">gini = 0.0</text><text y="-.75">samples = 2</text><text y="2.35">value = [2, 0]</text><text y="5.45">class = Perished</text></g>
<g id="n8_943" transform="translate(943 195.3)"><rect class="b" x="-10" y="-7.3" width="20" height="14.6"/><text y="-3.85">gini = 0.0</text><text y="-.75">samples = 2</text><text y="2.35">value = [0, 2]</text><text y="5.45">class = Survived</text></g>
<g id="n9_52" transform="translate(52 217.65)"><rect x="-11" y="-9.2" width="22" height="18.4" fill="#4ba6e7"/><text y="-5.4">X[5] &lt;= 13.25</text><text y="-2.3">gini = 0.1</text><text y=".8">samples = 19</text><text y="3.9">value = [1, 18]</text><text y="7">class = Survived</text></g>
<g id="n9_77" transform="translate(77.5 217.65)"><rect class="o" x="-9.5" y="-7.3" width="19" height="14.6"/><text y="-3.85">gini = 0.0</text><text y="-.75">samples = 1</text><text y="2.35">value = [1, 0]</text><text y="5.45">class = Perished</text></g>
<g id="n9_103" transform="translate(103 217.65)"><rect class="w" x="-11" y="-9.2" width="22" height="18.4"/><text y="-5.4">X[5] &lt;= 26.125</text><text y="-2.3">gini = 0.5</text><text y=".8">samples = 2</text><text y="3.9">value = [1, 1]</text><text y="7">class = Perished</text></g>
<g id="n9_129" transform="translate(129 217.65)"><rect class="b" x="-10" y="-7.3" width="20" height="14.6"/><text y="-3.85">gini = 0.0</text><text y="-.75">samples = 5</text><text y="2.35">value = [0, 5]</text><text y="5.45">class = Survived</text></g>
<g id="n9_282" transform="translate(282.5 217.65)"><rect x="-10.5" y="-9.2" width="21" height="18.4" fill="#f2c19e"/><text y="-5.4">X[5] &lt;= 7.763</text><text y="-2.3">gini = 0.444</text><text y=".8">samples = 3</text><text y="3.9">value = [2, 1]</text><text y="7">class = Perished</text></g>
<g id="n9_308" transform="translate(308 217.65)"><rect class="b" x="-10" y="-7.3" width="20" height="14.6"/><text y="-3.85">gini = 0.0</text><text y="-.75">samples = 9</text><text y="2.35">value = [0, 9]</text><text y="5.45">class = Survived</text></g>
<g id="n9_385" transform="translate(385 217.65)"><rect class="o" x="-11" y="-7.3" width="22" height="14.6"/><text y="-3.85">gini = 0.0</text><text y="-.75">samples = 5</text><text y="2.35">value = [5, 0]</text><text y="5.45">class = Perished</text></g>
<g id="n9_410" transform="translate(410.5 217.65)"><rect x="-10.5" y="-9.2" width="21" height="18.4" fill="#fbeade"/><text y="-5.4">X[0] &lt;= 30.5</text><text y="-2.3">gini = 0.496</text><text y=".8">samples = 11</text><text y="3.9">value = [6, 5]</text><text y="7">class = Perished</text></g>
<g id="n9_462" transform="translate(462 217.65)"><rect x="-11" y="-9.2" width="22" height="18.4" fill="#fdf3ec"/><text y="-5.4">X[5] &lt;= 7.763</text><text y="-2.3">gini = 0.497</text><text y=".8">samples = 13</text><text y="3.9">value = [7, 6]</text><text y="7">class = Perished</text></g>
<g id="n9_488" transform="translate(488 217.65)"><rect class="b" x="-10" y="-7.3" width="20" height="14.6"/><text y="-3.85">gini = 0.0</text><text y="-.75">samples = 3</text><text y="2.35">value = [0, 3]</text><text y="5.45">class = Survived</text></g>
<g id="n9_513" transform="translate(513 217.65)"><rect x="-10" y="-9.2" width="20" height="18.4" fill="#eca06a"/><text y="-5.4">X[5] &lt;= 7.763</text><text y="-2.3">gini = 0.278</text><text y=".8">samples = 6</text><text y="3.9">value = [5, 1]</text><text y="7">class = Perished</text></g>
<g id="n9_539" transform="translate(539 217.65)"><rect class="b" x="-10" y="-7.3" width="20" height="14.6"/><text y="-3.85">gini = 0.0</text><text y="-.75">samples = 1</text><text y="2.35">value = [0, 1]</text><text y="5.45">class = Survived</text></g>
<g id="n9_589" transform="translate(589.5 217.65)"><rect x="-10.5" y="-9.2" width="21" height="18.4" fill="#eca26d"/><text y="-5.4">X[0] &lt;= 41.0</text><text y="-2.3">gini = 0.291</text><text y=".8">samples = 34</text><text y="3.9">value = [28, 6]</text><text y="7">class = Perished</text></g>
<g id="n9_615" transform="translate(615.5 217.65)"><rect class="o" x="-10.5" y="-7.3" width="21" height="14.6"/><text y="-3.85">gini = 0.0</text><text y="-.75">samples = 6</text><text y="2.35">value = [6, 0]</text><text y="5.45">class = Perished</text></g>
<g id="n9_667" transform="translate(667.5 217.65)"><rect x="-10.5" y="-9.2" width="21" height="18.4" fill="#f8e0ce"/><text y="-5.4">X[5] &lt;= 7.875</text><text y="-2.3">gini = 0.494</text><text y=".8">samples = 9</text><text y="3.9">value = [5, 4]</text><text y="7">class = Perished</text></g>
<g id="n9_693" transform="translate(693 217.65)"><rect class="b" x="-10" y="-7.3" width="20" height="14.6"/><text y="-3.85">gini = 0.0</text><text y="-.75">samples = 2</text><text y="2.35">value = [0, 2]</text><text y="5.45">class = Survived</text></g>
<g id="n9_835" transform="translate(835.5 217.65)"><rect x="-11.5" y="-9.2" width="23" height="18.4" fill="#e99457"/><text y="-5.4">X[0] &lt;= 44.5</text><text y="-2.3">gini = 0.149</text><text y=".8">samples = 185</text><text y="3.9">value = [170, 15]</text><text y="7">class = Perished</text></g>
<g id="n9_949" transform="translate(949 217.65)"><rect class="w" x="-10" y="-9.2" width="20" height="18.4"/><text y="-5.4">X[5] &lt;= 7.87</text><text y="-2.3">gini = 0.5</text><text y=".8">samples = 14</text><text y="3.9">value = [7, 7]</text><text y="7">class = Perished</text></g>
<g id="n10_39" transform="translate(39 240)"><rect x="-10" y="-9.2" width="20" height="18.4" fill="#7bbeee"/><text y="-5.4">X[0] &lt;= 17.5</text><text y="-2.3">gini = 0.375</text><text y=".8">samples = 4</text><text y="3.9">value = [1, 3]</text><text y="7">class = Survived</text></g>
<g id="n10_65" transform="translate(65 240)"><rect class="b" x="-11" y="-7.3" width="22" height="14.6"/><text y="-3.85">gini = 0.0</text><text y="-.75">samples = 15</text><text y="2.35">value = [0, 15]</text><text y="5.45">class = Survived</text></g>
<g id="n10_90" transform="translate(90.5 240)"><rect class="b" x="-9.5" y="-7.3" width="19" height="14.6"/><text y="-3.85">gini = 0.0</text><text y="-.75">samples = 1</text><text y="2.35">value = [0, 1]</text><text y="5.45">class = Survived</text></g>
<g id="n10_116" transform="translate(116 240)"><rect class="o" x="-10" y="-7.3" width="20" height="14.6"/><text y="-3.85">gini = 0.0</text><text y="-.75">samples = 1</text><text y="2.35">value = [1, 0]</text><text y="5.45">class = Perished</text></g>
<g id="n10_269" transform="translate(269.5 240)"><rect class="b" x="-10.5" y="-7.3" width="21" height="14.6"/><text y="-3.85">gini = 0.0</text><text y="-.75">samples = 1</text><text y="2.35">value = [0, 1]</text><text y="5.45">class = Survived</text></g>
<g id="n10_295" transform="translate(295.5 240)"><rect class="o" x="-10.5" y="-7.3" width="21" height="14.6"/><text y="-3.85">gini = 0.0</text><text y="-.75">samples = 2</text><text y="2.35">value = [2, 0]</text><text y="5.45">class = Perished</text></g>
<g id="n10_398" transform="translate(398 240)"><rect class="w" x="-10" y="-9.2" width="20" height="18.4"/><text y="-5.4">X[5] &lt;= 8.1</text><text y="-2.3">gini = 0.5</text><text y=".8">samples = 8</text><text y="3.9">value = [4, 4]</text><text y="7">class = Perished</text></g>
<g id="n10_423" transform="translate(423 240)"><rect class="o" x="-10" y="-7.3" width="20" height="14.6"/><text y="-3.85">gini = 0.0</text><text y="-.75">samples = 3</text><text y="2.35">value = [3, 0]</text><text y="5.45">class = Perished</text></g>
<g id="n10_449" transform="translate(449.5 240)"><rect x="-11.5" y="-9.2" width="23" height="18.4" fill="#c6e3f7"/><text y="-5.4">X[0] &lt;= 26.5</text><text y="-2.3">gini = 0.494</text><text y=".8">samples = 9</text><text y="3.9">value = [4, 5]</text><text y="7">class = Survived</text></g>
<g id="n10_475" transform="translate(475 240)"><rect class="o" x="-10" y="-7.3" width="20" height="14.6"/><text y="-3.85">gini = 0.0</text><text y="-.75">samples = 4</text><text y="2.35">value = [4, 0]</text><text y="5.45">class = Perished</text></g>
<g id="n10_500" transform="translate(500 240)"><rect class="o" x="-11" y="-7.3" width="22" height="14.6"/><text y="-3.85">gini = 0.0</text><text y="-.75">samples = 3</text><text y="2.35">value = [3, 0]</text><text y="5.45">class = Perished</text></g>
<g id="n10_526" transform="translate(526.5 240)"><rect x="-10.5" y="-9.2" width="21" height="18.4" fill="#f7d8c2"/><text y="-5.4">X[0] &lt;= 39.0</text><text y="-2.3">gini = 0.48</text><text y=".8">samples = 5</text><text y="3.9">value = [3, 2]</text><text y="7">class = Perished</text></g>
<g id="n10_577" transform="translate(577.5 240)"><rect class="o" x="-9.5" y="-7.3" width="19" height="14.6"/><text y="-3.85">gini = 0.0</text><text y="-.75">samples = 8</text><text y="2.35">value = [8, 0]</text><text y="5.45">class = Perished</text></g>
<g id="n10_603" transform="translate(603 240)"><rect x="-10" y="-9.2" width="20" height="18.4" fill="#f3c5a4"/><text y="-5.4">X[5] &lt;= 8.081</text><text y="-2.3">gini = 0.426</text><text y=".8">samples = 26</text><text y="3.9">value = [18, 8]</text><text y="7">class = Perished</text></g>
<g id="n10_655" transform="translate(655 240)"><rect class="w" x="-11" y="-9.2" width="22" height="18.4"/><text y="-5.4">X[0] &lt;= 28.5</text><text y="-2.3">gini = 0.5</text><text y=".8">samples = 6</text><text y="3.9">value = [3, 3]</text><text y="7">class = Perished</text></g>
<g id="n10_681" transform="translate(681 240)"><rect class="o" x="-10" y="-7.3" width="20" height="14.6"/><text y="-3.85">gini = 0.0</text><text y="-.75">samples = 3</text><text y="2.35">value = [3, 0]</text><text y="5.45">class = Perished</text></g>
<g id="n10_759" transform="translate(759.5 240)"><rect x="-11.5" y="-9.2" width="23" height="18.4" fill="#f2c09c"/><text y="-5.4">X[5] &lt;= 7.988</text><text y="-2.3">gini = 0.444</text><text y=".8">samples = 30</text><text y="3.9">value = [20, 10]</text><text y="7">class = Perished</text></g>
<g id="n10_911" transform="translate(911 240)"><rect x="-11" y="-9.2" width="22" height="18.4" fill="#eda877"/><text y="-5.4">X[5] &lt;= 7.91</text><text y="-2.3">gini = 0.32</text><text y=".8">samples = 25</text><text y="3.9">value = [20, 5]</text><text y="7">class = Perished</text></g>
<g id="n10_936" transform="translate(936.5 240)"><rect class="b" x="-10.5" y="-7.3" width="21" height="14.6"/><text y="-3.85">gini = 0.0</text><text y="-.75">samples = 2</text><text y="2.35">value = [0, 2]</text><text y="5.45">class = Survived</text></g>
<g id="n10_962" transform="translate(962 240)"><rect class="o" x="-10" y="-7.3" width="20" height="14.6"/><text y="-3.85">gini = 0.0</text><text y="-.75">samples = 5</text><text y="2.35">value = [5, 0]</text><text y="5.45">class = Perished</text></g>
<g id="n11_26" transform="translate(26 262.35)"><rect class="b" x="-10" y="-7.3" width="20" height="14.6"/><text y="-3.85">gini = 0.0</text><text y="-.75">samples = 2</text><text y="2.35">value = [0, 2]</text><text y="5.45">class = Survived</text></g>
<g id="n11_51" transform="translate(51.5 262.35)"><rect class="w" x="-10.5" y="-7.3" width="21" height="14.6"/><text y="-3.85">gini = 0.5</text><text y="-.75">samples = 2</text><text y="2.35">value = [1, 1]</text><text y="5.45">class = Perished</text></g>
<g id="n11_385" transform="translate(385 262.35)"><rect x="-11" y="-9.2" width="22" height="18.4" fill="#f5cdb0"/><text y="-5.4">X[0] &lt;= 22.5</text><text y="-2.3">gini = 0.469</text><text y=".8">samples = 8</text><text y="3.9">value = [5, 3]</text><text y="7">class = Perished</text></g>
<g id="n11_411" transform="translate(411 262.35)"><rect class="b" x="-10" y="-7.3" width="20" height="14.6"/><text y="-3.85">gini = 0.0</text><text y="-.75">samples = 1</text><text y="2.35">value = [0, 1]</text><text y="5.45">class = Survived</text></g>
<g id="n11_436" transform="translate(436.5 262.35)"><rect x="-10.5" y="-9.2" width="21" height="18.4" fill="#f6d2b8"/><text y="-5.4">X[0] &lt;= 19.5</text><text y="-2.3">gini = 0.48</text><text y=".8">samples = 5</text><text y="3.9">value = [3, 2]</text><text y="7">class = Perished</text></g>
<g id="n11_462" transform="translate(462 262.35)"><rect class="b" x="-10" y="-7.3" width="20" height="14.6"/><text y="-3.85">gini = 0.0</text><text y="-.75">samples = 4</text><text y="2.35">value = [0, 4]</text><text y="5.45">class = Survived</text></g>
<g id="n11_513" transform="translate(513 262.35)"><rect class="b" x="-10" y="-7.3" width="20" height="14.6"/><text y="-3.85">gini = 0.0</text><text y="-.75">samples = 1</text><text y="2.35">value = [0, 1]</text><text y="5.45">class = Survived</text></g>
<g id="n11_539" transform="translate(539 262.35)"><rect class="o" x="-10" y="-7.3" width="20" height="14.6"/><text y="-3.85">gini = 0.0</text><text y="-.75">samples = 1</text><text y="2.35">value = [1, 0]</text><text y="5.45">class = Perished</text></g>
<g id="n11_589" transform="translate(589.5 262.35)"><rect x="-10.5" y="-9.2" width="21" height="18.4" fill="#eb9e66"/><text y="-5.4">X[0] &lt;= 23.5</text><text y="-2.3">gini = 0.278</text><text y=".8">samples = 18</text><text y="3.9">value = [15, 3]</text><text y="7">class = Perished</text></g>
<g id="n11_616" transform="translate(616 262.35)"><rect class="b" x="-10" y="-7.3" width="20" height="14.6"/><text y="-3.85">gini = 0.0</text><text y="-.75">samples = 1</text><text y="2.35">value = [0, 1]</text><text y="5.45">class = Survived</text></g>
<g id="n11_642" transform="translate(642 262.35)"><rect x="-10" y="-9.2" width="20" height="18.4" fill="#f4c9aa"/><text y="-5.4">X[5] &lt;= 7.8</text><text y="-2.3">gini = 0.463</text><text y=".8">samples = 11</text><text y="3.9">value = [7, 4]</text><text y="7">class = Perished</text></g>
<g id="n11_667" transform="translate(667 262.35)"><rect class="b" x="-10" y="-7.3" width="20" height="14.6"/><text y="-3.85">gini = 0.0</text><text y="-.75">samples = 2</text><text y="2.35">value = [0, 2]</text><text y="5.45">class = Survived</text></g>
<g id="n11_718" transform="translate(718.5 262.35)"><rect x="-10.5" y="-9.2" width="21" height="18.4" fill="#f1ba92"/><text y="-5.4">X[5] &lt;= 7.65</text><text y="-2.3">gini = 0.42</text><text y=".8">samples = 10</text><text y="3.9">value = [7, 3]</text><text y="7">class = Perished</text></g>
<g id="n11_802" transform="translate(802 262.35)"><rect x="-11" y="-9.2" width="22" height="18.4" fill="#eeab7b"/><text y="-5.4">X[0] &lt;= 25.5</text><text y="-2.3">gini = 0.375</text><text y=".8">samples = 20</text><text y="3.9">value = [15, 5]</text><text y="7">class = Perished</text></g>
<g id="n11_897" transform="translate(897.5 262.35)"><rect class="o" x="-10.5" y="-7.3" width="21" height="14.6"/><text y="-3.85">gini = 0.0</text><text y="-.75">samples = 10</text><text y="2.35">value = [10, 0]</text><text y="5.45">class = Perished</text></g>
<g id="n11_923" transform="translate(923 262.35)"><rect x="-10" y="-9.2" width="20" height="18.4" fill="#eb9c63"/><text y="-5.4">X[0] &lt;= 39.5</text><text y="-2.3">gini = 0.26</text><text y=".8">samples = 13</text><text y="3.9">value = [11, 2]</text><text y="7">class = Perished</text></g>
<g id="n12_372" transform="translate(372 284.7)"><rect class="b" x="-10" y="-7.3" width="20" height="14.6"/><text y="-3.85">gini = 0.0</text><text y="-.75">samples = 1</text><text y="2.35">value = [0, 1]</text><text y="5.45">class = Survived</text></g>
<g id="n12_397" transform="translate(397.5 284.7)"><rect x="-10.5" y="-9.2" width="21" height="18.4" fill="#f0b78e"/><text y="-5.4">X[0] &lt;= 25.5</text><text y="-2.3">gini = 0.408</text><text y=".8">samples = 7</text><text y="3.9">value = [5, 2]</text><text y="7">class = Perished</text></g>
<g id="n12_423" transform="translate(423 284.7)"><rect class="b" x="-10" y="-7.3" width="20" height="14.6"/><text y="-3.85">gini = 0.0</text><text y="-.75">samples = 1</text><text y="2.35">value = [0, 1]</text><text y="5.45">class = Survived</text></g>
<g id="n12_448" transform="translate(448.5 284.7)"><rect x="-9.5" y="-9.2" width="19" height="18.4" fill="#efb083"/><text y="-5.4">X[0] &lt;= 23.0</text><text y="-2.3">gini = 0.375</text><text y=".8">samples = 4</text><text y="3.9">value = [3, 1]</text><text y="7">class = Perished</text></g>
<g id="n12_577" transform="translate(577 284.7)"><rect x="-10" y="-9.2" width="20" height="18.4" fill="#f3c6a5"/><text y="-5.4">X[5] &lt;= 8.042</text><text y="-2.3">gini = 0.426</text><text y=".8">samples = 13</text><text y="3.9">value = [9, 4]</text><text y="7">class = Perished</text></g>
<g id="n12_603" transform="translate(603 284.7)"><rect class="o" x="-10" y="-7.3" width="20" height="14.6"/><text y="-3.85">gini = 0.0</text><text y="-.75">samples = 5</text><text y="2.35">value = [5, 0]</text><text y="5.45">class = Perished</text></g>
<g id="n12_628" transform="translate(628 284.7)"><rect class="o" x="-10" y="-7.3" width="20" height="14.6"/><text y="-3.85">gini = 0.0</text><text y="-.75">samples = 4</text><text y="2.35">value = [4, 0]</text><text y="5.45">class = Perished</text></g>
<g id="n12_654" transform="translate(654.5 284.7)"><rect class="w" x="-10.5" y="-9.2" width="21" height="18.4"/><text y="-5.4">X[0] &lt;= 33.5</text><text y="-2.3">gini = 0.5</text><text y=".8">samples = 6</text><text y="3.9">value = [3, 3]</text><text y="7">class = Perished</text></g>
<g id="n12_706" transform="translate(706 284.7)"><rect x="-9" y="-9.2" width="18" height="18.4" fill="#a3d1f3"/><text y="-5.4">X[0] &lt;= 34.5</text><text y="-2.3">gini = 0.444</text><text y=".8">samples = 3</text><text y="3.9">value = [1, 2]</text><text y="7">class = Survived</text></g>
<g id="n12_731" transform="translate(731 284.7)"><rect class="o" x="-9" y="-7.3" width="18" height="14.6"/><text y="-3.85">gini = 0.0</text><text y="-.75">samples = 7</text><text y="2.35">value = [7, 0]</text><text y="5.45">class = Perished</text></g>
<g id="n12_769" transform="translate(769.5 284.7)"><rect x="-10.5" y="-9.2" width="21" height="18.4" fill="#eb9c63"/><text y="-5.4">X[0] &lt;= 21.5</text><text y="-2.3">gini = 0.26</text><text y=".8">samples = 13</text><text y="3.9">value = [11, 2]</text><text y="7">class = Perished</text></g>
<g id="n12_833" transform="translate(833.5 284.7)"><rect x="-9.5" y="-9.2" width="19" height="18.4" fill="#f2c09c"/><text y="-5.4">X[5] &lt;= 7.5</text><text y="-2.3">gini = 0.444</text><text y=".8">samples = 6</text><text y="3.9">value = [4, 2]</text><text y="7">class = Perished</text></g>
<g id="n12_885" transform="translate(885.5 284.7)"><rect x="-10.5" y="-9.2" width="21" height="18.4" fill="#f8dbc6"/><text y="-5.4">X[5] &lt;= 8.1</text><text y="-2.3">gini = 0.48</text><text y=".8">samples = 5</text><text y="3.9">value = [3, 2]</text><text y="7">class = Perished</text></g>
<g id="n12_962" transform="translate(962 284.7)"><rect x="-10" y="-9.2" width="20" height="18.4" fill="#eda774"/><text y="-5.4">X[0] &lt;= 45.5</text><text y="-2.3">gini = 0.32</text><text y=".8">samples = 5</text><text y="3.9">value = [4, 1]</text><text y="7">class = Perished</text></g>
<g id="n13_385" transform="translate(385 307.05)"><rect class="o" x="-11" y="-7.3" width="22" height="14.6"/><text y="-3.85">gini = 0.0</text><text y="-.75">samples = 3</text><text y="2.35">value = [3, 0]</text><text y="5.45">class = Perished</text></g>
<g id="n13_411" transform="translate(411 307.05)"><rect class="w" x="-11" y="-9.2" width="22" height="18.4"/><text y="-5.4">X[5] &lt;= 7.9</text><text y="-2.3">gini = 0.5</text><text y=".8">samples = 4</text><text y="3.9">value = [2, 2]</text><text y="7">class = Perished</text></g>
<g id="n13_436" transform="translate(436.5 307.05)"><rect class="o" x="-10.5" y="-7.3" width="21" height="14.6"/><text y="-3.85">gini = 0.0</text><text y="-.75">samples = 2</text><text y="2.35">value = [2, 0]</text><text y="5.45">class = Perished</text></g>
<g id="n13_462" transform="translate(462.5 307.05)"><rect class="w" x="-10.5" y="-9.2" width="21" height="18.4"/><text y="-5.4">X[5] &lt;= 7.85</text><text y="-2.3">gini = 0.5</text><text y=".8">samples = 4</text><text y="3.9">value = [2, 2]</text><text y="7">class = Perished</text></g>
<g id="n13_551" transform="translate(551.5 307.05)"><rect x="-10.5" y="-9.2" width="21" height="18.4" fill="#f0b890"/><text y="-5.4">X[0] &lt;= 19.0</text><text y="-2.3">gini = 0.397</text><text y=".8">samples = 11</text><text y="3.9">value = [8, 3]</text><text y="7">class = Perished</text></g>
<g id="n13_603" transform="translate(603 307.05)"><rect x="-10" y="-9.2" width="20" height="18.4" fill="#8ec7f0"/><text y="-5.4">X[0] &lt;= 20.5</text><text y="-2.3">gini = 0.375</text><text y=".8">samples = 4</text><text y="3.9">value = [1, 3]</text><text y="7">class = Survived</text></g>
<g id="n13_641" transform="translate(641.5 307.05)"><rect class="b" x="-9.5" y="-7.3" width="19" height="14.6"/><text y="-3.85">gini = 0.0</text><text y="-.75">samples = 1</text><text y="2.35">value = [0, 1]</text><text y="5.45">class = Survived</text></g>
<g id="n13_667" transform="translate(667 307.05)"><rect x="-10" y="-9.2" width="20" height="18.4" fill="#f8dcc8"/><text y="-5.4">X[0] &lt;= 38.0</text><text y="-2.3">gini = 0.48</text><text y=".8">samples = 5</text><text y="3.9">value = [3, 2]</text><text y="7">class = Perished</text></g>
<g id="n13_692" transform="translate(692.5 307.05)"><rect class="w" x="-9.5" y="-7.3" width="19" height="14.6"/><text y="-3.85">gini = 0.5</text><text y="-.75">samples = 2</text><text y="2.35">value = [1, 1]</text><text y="5.45">class = Perished</text></g>
<g id="n13_718" transform="translate(718 307.05)"><rect class="b" x="-10" y="-7.3" width="20" height="14.6"/><text y="-3.85">gini = 0.0</text><text y="-.75">samples = 1</text><text y="2.35">value = [0, 1]</text><text y="5.45">class = Survived</text></g>
<g id="n13_743" transform="translate(743.5 307.05)"><rect x="-10.5" y="-9.2" width="21" height="18.4" fill="#ea985d"/><text y="-5.4">X[5] &lt;= 7.8</text><text y="-2.3">gini = 0.245</text><text y=".8">samples = 7</text><text y="3.9">value = [6, 1]</text><text y="7">class = Perished</text></g>
<g id="n13_796" transform="translate(796 307.05)"><rect x="-10" y="-9.2" width="20" height="18.4" fill="#eeab7b"/><text y="-5.4">X[0] &lt;= 27.5</text><text y="-2.3">gini = 0.32</text><text y=".8">samples = 5</text><text y="3.9">value = [4, 1]</text><text y="7">class = Perished</text></g>
<g id="n13_820" transform="translate(820.5 307.05)"><rect class="o" x="-10.5" y="-7.3" width="21" height="14.6"/><text y="-3.85">gini = 0.0</text><text y="-.75">samples = 3</text><text y="2.35">value = [3, 0]</text><text y="5.45">class = Perished</text></g>
<g id="n13_847" transform="translate(847 307.05)"><rect x="-10" y="-9.2" width="20" height="18.4" fill="#9ccef2"/><text y="-5.4">X[0] &lt;= 28.5</text><text y="-2.3">gini = 0.444</text><text y=".8">samples = 3</text><text y="3.9">value = [1, 2]</text><text y="7">class = Survived</text></g>
<g id="n13_872" transform="translate(872 307.05)"><rect class="o" x="-10" y="-7.3" width="20" height="14.6"/><text y="-3.85">gini = 0.0</text><text y="-.75">samples = 2</text><text y="2.35">value = [2, 0]</text><text y="5.45">class = Perished</text></g>
<g id="n13_898" transform="translate(898 307.05)"><rect class="w" x="-10" y="-9.2" width="20" height="18.4"/><text y="-5.4">X[0] &lt;= 29.5</text><text y="-2.3">gini = 0.5</text><text y=".8">samples = 4</text><text y="3.9">value = [2, 2]</text><text y="7">class = Perished</text></g>
<g id="n13_948" transform="translate(948.5 307.05)"><rect x="-9.5" y="-9.2" width="19" height="18.4" fill="#efb388"/><text y="-5.4">X[0] &lt;= 47.0</text><text y="-2.3">gini = 0.375</text><text y=".8">samples = 4</text><text y="3.9">value = [3, 1]</text><text y="7">class = Perished</text></g>
<g id="n13_975" transform="translate(975 307.05)"><rect class="o" x="-10" y="-7.3" width="20" height="14.6"/><text y="-3.85">gini = 0.0</text><text y="-.75">samples = 1</text><text y="2.35">value = [1, 0]</text><text y="5.45">class = Perished</text></g>
<g id="n14_398" transform="translate(398 329.4)"><rect class="b" x="-10" y="-7.3" width="20" height="14.6"/><text y="-3.85">gini = 0.0</text><text y="-.75">samples = 1</text><text y="2.35">value = [0, 1]</text><text y="5.45">class = Survived</text></g>
<g id="n14_423" transform="translate(423 329.4)"><rect class="o" x="-10" y="-7.3" width="20" height="14.6"/><text y="-3.85">gini = 0.0</text><text y="-.75">samples = 2</text><text y="2.35">value = [2, 0]</text><text y="5.45">class = Perished</text></g>
<g id="n14_449" transform="translate(449 329.4)"><rect class="o" x="-10" y="-7.3" width="20" height="14.6"/><text y="-3.85">gini = 0.0</text><text y="-.75">samples = 1</text><text y="2.35">value = [1, 0]</text><text y="5.45">class = Perished</text></g>
<g id="n14_475" transform="translate(475 329.4)"><rect x="-12" y="-9.2" width="24" height="18.4" fill="#a5d2f3"/><text y="-5.4">X[5] &lt;= 7.875</text><text y="-2.3">gini = 0.444</text><text y=".8">samples = 3</text><text y="3.9">value = [1, 2]</text><text y="7">class = Survived</text></g>
<g id="n14_538" transform="translate(538.5 329.4)"><rect class="w" x="-10.5" y="-9.2" width="21" height="18.4"/><text y="-5.4">X[0] &lt;= 17.5</text><text y="-2.3">gini = 0.5</text><text y=".8">samples = 2</text><text y="3.9">value = [1, 1]</text><text y="7">class = Perished</text></g>
<g id="n14_564" transform="translate(564 329.4)"><rect class="o" x="-10" y="-7.3" width="20" height="14.6"/><text y="-3.85">gini = 0.0</text><text y="-.75">samples = 7</text><text y="2.35">value = [7, 0]</text><text y="5.45">class = Perished</text></g>
<g id="n14_590" transform="translate(590 329.4)"><rect class="b" x="-10" y="-7.3" width="20" height="14.6"/><text y="-3.85">gini = 0.0</text><text y="-.75">samples = 3</text><text y="2.35">value = [0, 3]</text><text y="5.45">class = Survived</text></g>
<g id="n14_616" transform="translate(616 329.4)"><rect class="o" x="-10" y="-7.3" width="20" height="14.6"/><text y="-3.85">gini = 0.0</text><text y="-.75">samples = 1</text><text y="2.35">value = [1, 0]</text><text y="5.45">class = Perished</text></g>
<g id="n14_654" transform="translate(654 329.4)"><rect x="-10" y="-7.3" width="20" height="14.6" fill="#f2c09c"/><text y="-3.85">gini = 0.444</text><text y="-.75">samples = 3</text><text y="2.35">value = [2, 1]</text><text y="5.45">class = Perished</text></g>
<g id="n14_680" transform="translate(680 329.4)"><rect class="w" x="-10" y="-7.3" width="20" height="14.6"/><text y="-3.85">gini = 0.5</text><text y="-.75">samples = 2</text><text y="2.35">value = [1, 1]</text><text y="5.45">class = Perished</text></g>
<g id="n14_730" transform="translate(730.5 329.4)"><rect class="o" x="-10.5" y="-7.3" width="21" height="14.6"/><text y="-3.85">gini = 0.0</text><text y="-.75">samples = 3</text><text y="2.35">value = [3, 0]</text><text y="5.45">class = Perished</text></g>
<g id="n14_757" transform="translate(757 329.4)"><rect x="-10" y="-9.2" width="20" height="18.4" fill="#f2c09c"/><text y="-5.4">X[0] &lt;= 20.0</text><text y="-2.3">gini = 0.375</text><text y=".8">samples = 4</text><text y="3.9">value = [3, 1]</text><text y="7">class = Perished</text></g>
<g id="n14_782" transform="translate(782.5 329.4)"><rect class="b" x="-9.5" y="-7.3" width="19" height="14.6"/><text y="-3.85">gini = 0.0</text><text y="-.75">samples = 1</text><text y="2.35">value = [0, 1]</text><text y="5.45">class = Survived</text></g>
<g id="n14_808" transform="translate(808 329.4)"><rect class="o" x="-10" y="-7.3" width="20" height="14.6"/><text y="-3.85">gini = 0.0</text><text y="-.75">samples = 4</text><text y="2.35">value = [4, 0]</text><text y="5.45">class = Perished</text></g>
<g id="n14_833" transform="translate(833.5 329.4)"><rect class="b" x="-9.5" y="-7.3" width="19" height="14.6"/><text y="-3.85">gini = 0.0</text><text y="-.75">samples = 2</text><text y="2.35">value = [0, 2]</text><text y="5.45">class = Survived</text></g>
<g id="n14_859" transform="translate(859 329.4)"><rect class="o" x="-10" y="-7.3" width="20" height="14.6"/><text y="-3.85">gini = 0.0</text><text y="-.75">samples = 1</text><text y="2.35">value = [1, 0]</text><text y="5.45">class = Perished</text></g>
<g id="n14_885" transform="translate(885 329.4)"><rect x="-9" y="-9.2" width="18" height="18.4" fill="#a7d3f3"/><text y="-5.4">X[0] &lt;= 33.0</text><text y="-2.3">gini = 0.444</text><text y=".8">samples = 3</text><text y="3.9">value = [1, 2]</text><text y="7">class = Survived</text></g>
<g id="n14_911" transform="translate(911 329.4)"><rect class="o" x="-10" y="-7.3" width="20" height="14.6"/><text y="-3.85">gini = 0.0</text><text y="-.75">samples = 1</text><text y="2.35">value = [1, 0]</text><text y="5.45">class = Perished</text></g>
<g id="n14_936" transform="translate(936.5 329.4)"><rect class="o" x="-10.5" y="-7.3" width="21" height="14.6"/><text y="-3.85">gini = 0.0</text><text y="-.75">samples = 2</text><text y="2.35">value = [2, 0]</text><text y="5.45">class = Perished</text></g>
<g id="n14_962" transform="translate(962 329.4)"><rect class="w" x="-10" y="-7.3" width="20" height="14.6"/><text y="-3.85">gini = 0.5</text><text y="-.75">samples = 2</text><text y="2.35">value = [1, 1]</text><text y="5.45">class = Perished</text></g>
<g id="n15_462" transform="translate(462 351.75)"><rect class="b" x="-10" y="-7.3" width="20" height="14.6"/><text y="-3.85">gini = 0.0</text><text y="-.75">samples = 2</text><text y="2.35">value = [0, 2]</text><text y="5.45">class = Survived</text></g>
<g id="n15_488" transform="translate(488 351.75)"><rect class="o" x="-10" y="-7.3" width="20" height="14.6"/><text y="-3.85">gini = 0.0</text><text y="-.75">samples = 1</text><text y="2.35">value = [1, 0]</text><text y="5.45">class = Perished</text></g>
<g id="n15_526" transform="translate(526.5 351.75)"><rect class="o" x="-10.5" y="-7.3" width="21" height="14.6"/><text y="-3.85">gini = 0.0</text><text y="-.75">samples = 1</text><text y="2.35">value = [1, 0]</text><text y="5.45">class = Perished</text></g>
<g id="n15_552" transform="translate(552 351.75)"><rect class="b" x="-10" y="-7.3" width="20" height="14.6"/><text y="-3.85">gini = 0.0</text><text y="-.75">samples = 1</text><text y="2.35">value = [0, 1]</text><text y="5.45">class = Survived</text></g>
<g id="n15_743" transform="translate(743.5 351.75)"><rect x="-10.5" y="-9.2" width="21" height="18.4" fill="#f4c9aa"/><text y="-5.4">X[5] &lt;= 7.763</text><text y="-2.3">gini = 0.444</text><text y=".8">samples = 3</text><text y="3.9">value = [2, 1]</text><text y="7">class = Perished</text></g>
<g id="n15_769" transform="translate(769.5 351.75)"><rect class="o" x="-10.5" y="-7.3" width="21" height="14.6"/><text y="-3.85">gini = 0.0</text><text y="-.75">samples = 1</text><text y="2.35">value = [1, 0]</text><text y="5.45">class = Perished</text></g>
<g id="n15_872" transform="translate(872 351.75)"><rect class="b" x="-10" y="-7.3" width="20" height="14.6"/><text y="-3.85">gini = 0.0</text><text y="-.75">samples = 1</text><text y="2.35">value = [0, 1]</text><text y="5.45">class = Survived</text></g>
<g id="n15_898" transform="translate(898 351.75)"><rect class="w" x="-10" y="-7.3" width="20" height="14.6"/><text y="-3.85">gini = 0.5</text><text y="-.75">samples = 2</text><text y="2.35">value = [1, 1]</text><text y="5.45">class = Perished</text></g>
<g id="n16_731" transform="translate(731 374.1)"><rect class="o" x="-10" y="-7.3" width="20" height="14.6"/><text y="-3.85">gini = 0.0</text><text y="-.75">samples = 1</text><text y="2.35">value = [1, 0]</text><text y="5.45">class = Perished</text></g>
<g id="n16_757" transform="translate(757 374.1)"><rect class="b" x="-10" y="-7.3" width="20" height="14.6"/><text y="-3.85">gini = 0.0</text><text y="-.75">samples = 1</text><text y="2.35">value = [0, 1]</text><text y="5.45">class = Survived</text></g>
</svg>
